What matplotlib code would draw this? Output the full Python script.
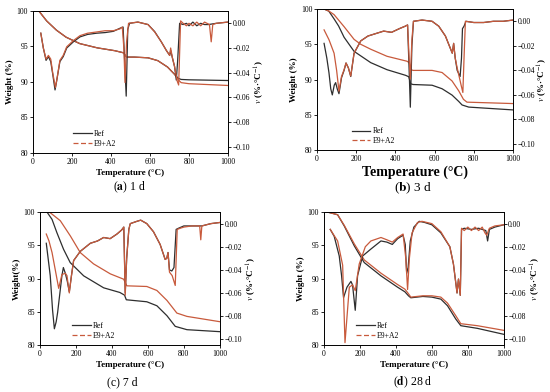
import matplotlib
matplotlib.use("Agg")
import matplotlib.pyplot as plt
from matplotlib.lines import Line2D

plt.rcParams["font.family"] = ["Liberation Serif", "DejaVu Serif"]
plt.rcParams["mathtext.fontset"] = "stix"

REF_COLOR = "#2e2e2e"
E9_COLOR = "#c85a3c"

# ---------------- (a) 1 d ----------------
t_w_a = [30, 70, 120, 170, 240, 330, 420, 465, 472, 480, 520, 590, 640, 690, 725, 745, 760, 800, 1000]
w_ref_a = [100, 98.6, 97.3, 96.3, 95.4, 94.8, 94.4, 94.1, 93.8, 93.5, 93.5, 93.4, 93.0, 92.1, 91.1, 90.5, 90.35, 90.3, 90.2]
w_e9_a = [100, 98.6, 97.3, 96.3, 95.4, 94.8, 94.4, 94.1, 93.8, 93.5, 93.5, 93.4, 93.0, 92.1, 91.1, 90.3, 89.9, 89.75, 89.5]

t_v_ref_a = [40, 53, 67, 79, 91, 101, 113, 121, 138, 155, 173, 207, 241, 280, 327, 370, 412, 446, 462, 470, 478,
             486, 495, 538, 590, 624, 658, 684, 701, 706, 715, 726, 735, 742, 752, 770, 787, 800, 820, 840, 860,
             880, 900, 940, 1000]
v_ref_a = [-0.008, -0.020, -0.030, -0.027, -0.031, -0.041, -0.054, -0.047, -0.031, -0.027, -0.020, -0.015, -0.011,
           -0.009, -0.008, -0.0075, -0.0065, -0.004, -0.003, -0.030, -0.059, -0.005, 0.0, 0.001, -0.001, -0.0067,
           -0.015, -0.022, -0.026, -0.022, -0.028, -0.035, -0.046, -0.030, 0.0, -0.001, 0.0, -0.002, 0.001,
           -0.002, 0.0, -0.001, -0.001, 0.0, 0.001]
t_v_e9_a = [40, 53, 67, 79, 91, 101, 115, 123, 138, 155, 173, 207, 241, 280, 327, 370, 412, 446, 458, 466, 472,
            480, 490, 538, 590, 624, 658, 684, 701, 706, 715, 726, 740, 747, 757, 770, 787, 800, 820, 840, 860,
            880, 905, 914, 922, 940, 1000]
v_e9_a = [-0.008, -0.020, -0.029, -0.026, -0.029, -0.040, -0.052, -0.045, -0.030, -0.026, -0.019, -0.014, -0.010,
          -0.008, -0.007, -0.006, -0.006, -0.0045, -0.003, -0.020, -0.048, -0.015, 0.0, 0.001, -0.001, -0.007,
          -0.015, -0.022, -0.026, -0.020, -0.028, -0.035, -0.047, -0.050, 0.002, 0.0, -0.002, 0.0, -0.002, 0.001,
          -0.002, 0.001, -0.001, -0.015, -0.001, 0.0, 0.001]

# ---------------- (b) 3 d ----------------
t_w_ref_b = [36, 60, 87, 110, 138, 189, 274, 357, 452, 468, 478, 490, 587, 638, 689, 723, 740, 774, 1000]
w_ref_b = [100, 99.7, 98.6, 97.6, 96.0, 94.0, 92.4, 91.4, 90.6, 90.4, 89.4, 89.3, 89.2, 88.7, 87.8, 86.9, 86.4, 86.1, 85.7]
t_w_e9_b = [36, 61, 87, 138, 189, 223, 274, 357, 459, 470, 480, 490, 587, 638, 689, 723, 747, 765, 1000]
w_e9_b = [100, 99.7, 99.2, 97.5, 95.7, 95.0, 94.3, 93.3, 92.6, 92.4, 91.4, 91.3, 91.3, 91.0, 89.8, 88.4, 87.2, 86.8, 86.6]

t_v_ref_b = [36, 50, 61, 70, 78, 88, 95, 103, 112, 125, 138, 148, 160, 172, 189, 223, 260, 300, 340, 380, 420,
             450, 462, 470, 476, 484, 492, 536, 587, 621, 655, 680, 690, 697, 705, 715, 730, 737, 742, 750, 760,
             800, 850, 900, 950, 1000]
v_ref_b = [-0.018, -0.030, -0.042, -0.055, -0.060, -0.052, -0.050, -0.055, -0.059, -0.046, -0.040, -0.034, -0.038,
           -0.045, -0.026, -0.016, -0.012, -0.010, -0.008, -0.009, -0.006, -0.004, -0.003, -0.040, -0.070, -0.020,
           0.0, 0.001, 0.0, -0.004, -0.012, -0.022, -0.026, -0.018, -0.030, -0.040, -0.045, -0.030, -0.006,
           -0.004, 0.0, -0.001, -0.001, 0.0, 0.0, 0.001]
t_v_e9_b = [36, 61, 87, 100, 112, 125, 138, 148, 160, 172, 189, 223, 260, 300, 340, 380, 420, 450, 462, 470, 476,
            484, 492, 536, 587, 621, 655, 680, 690, 697, 705, 715, 723, 735, 744, 750, 757, 800, 850, 900, 950, 1000]
v_e9_b = [-0.007, -0.015, -0.026, -0.040, -0.057, -0.045, -0.0395, -0.034, -0.038, -0.0446, -0.026, -0.016, -0.012,
          -0.010, -0.008, -0.009, -0.006, -0.004, -0.003, -0.030, -0.047, -0.015, 0.0, 0.001, 0.0, -0.004, -0.012,
          -0.022, -0.026, -0.018, -0.030, -0.038, -0.0435, -0.052, -0.058, -0.030, 0.0, -0.001, -0.001, 0.0, 0.0,
          0.001]

# ---------------- (c) 7 d ----------------
t_w_ref_c = [39, 67, 94, 131, 168, 243, 354, 444, 470, 480, 594, 650, 706, 752, 817, 1000]
w_ref_c = [100, 98.9, 96.9, 94.4, 92.4, 90.4, 88.6, 87.9, 87.5, 86.8, 86.5, 85.9, 84.4, 82.8, 82.3, 82.0]
t_w_e9_c = [45, 57, 113, 169, 224, 298, 391, 465, 474, 483, 594, 650, 706, 761, 817, 1000]
w_e9_c = [100, 99.9, 98.7, 96.4, 93.9, 92.2, 90.7, 89.9, 89.4, 88.9, 88.8, 88.2, 86.7, 84.8, 84.3, 83.5]

t_v_ref_c = [35, 57, 70, 80, 90, 98, 113, 122, 130, 141, 152, 163, 175, 187, 224, 280, 320, 354, 390, 428, 454,
             466, 474, 482, 494, 502, 539, 560, 594, 631, 668, 696, 705, 712, 720, 733, 745, 757, 770, 800, 844,
             900, 950, 1000]
v_ref_c = [-0.017, -0.045, -0.075, -0.091, -0.085, -0.077, -0.057, -0.045, -0.038, -0.043, -0.050, -0.059, -0.045,
           -0.032, -0.024, -0.017, -0.015, -0.012, -0.013, -0.009, -0.0055, -0.003, -0.060, -0.030, -0.005, 0.0,
           0.002, 0.003, 0.0, -0.007, -0.018, -0.031, -0.030, -0.025, -0.040, -0.041, -0.038, -0.005, -0.004,
           -0.002, -0.002, -0.002, 0.0, 0.001]
t_v_e9_c = [35, 50, 67, 85, 104, 122, 141, 150, 163, 175, 187, 224, 280, 320, 354, 390, 428, 454, 466, 474, 482,
            494, 502, 539, 560, 594, 631, 668, 696, 705, 712, 720, 735, 752, 763, 780, 800, 844, 888, 894, 900,
            950, 1000]
v_e9_c = [-0.009, -0.015, -0.025, -0.040, -0.056, -0.044, -0.043, -0.045, -0.060, -0.045, -0.032, -0.024, -0.017,
          -0.015, -0.012, -0.013, -0.009, -0.0055, -0.003, -0.062, -0.030, -0.005, 0.0, 0.002, 0.003, 0.0, -0.007,
          -0.018, -0.031, -0.030, -0.025, -0.042, -0.045, -0.0535, -0.005, -0.004, -0.003, -0.002, -0.002, -0.014,
          -0.002, 0.0, 0.001]

# ---------------- (d) 28 d ----------------
t_w_d = [20, 76, 113, 169, 224, 317, 409, 450, 470, 483, 550, 600, 650, 687, 733, 761, 853, 1000]
w_ref_d = [100, 99.6, 97.9, 94.9, 92.4, 90.4, 88.7, 88.0, 87.4, 87.1, 87.3, 87.2, 86.9, 85.9, 83.9, 82.9, 82.5, 81.6]
w_e9_d = [100, 99.6, 98.0, 95.2, 92.8, 90.8, 89.1, 88.4, 87.7, 87.2, 87.4, 87.4, 87.2, 86.3, 84.4, 83.2, 82.9, 82.2]

t_v_ref_d = [35, 57, 85, 98, 109, 128, 150, 159, 174, 187, 215, 261, 317, 350, 380, 410, 440, 452, 460, 468, 480,
             500, 530, 560, 600, 650, 700, 720, 740, 748, 758, 765, 780, 820, 860, 900, 910, 920, 950, 1000]
v_ref_d = [-0.005, -0.011, -0.028, -0.045, -0.064, -0.055, -0.050, -0.053, -0.075, -0.045, -0.028, -0.022, -0.015,
           -0.016, -0.018, -0.013, -0.010, -0.018, -0.043, -0.038, -0.015, -0.003, 0.002, 0.001, -0.001, -0.008,
           -0.020, -0.035, -0.060, -0.048, -0.062, -0.005, -0.004, -0.005, -0.004, -0.006, -0.015, -0.005, -0.003,
           -0.001]
t_v_e9_d = [35, 76, 104, 117, 141, 159, 174, 196, 230, 261, 317, 350, 380, 410, 440, 455, 465, 475, 490, 520, 545,
            600, 650, 700, 720, 740, 748, 758, 765, 780, 800, 820, 840, 860, 880, 895, 905, 920, 950, 1000]
v_e9_d = [-0.005, -0.015, -0.036, -0.103, -0.055, -0.053, -0.058, -0.035, -0.020, -0.015, -0.012, -0.014, -0.016,
          -0.012, -0.009, -0.030, -0.057, -0.030, -0.008, 0.001, 0.002, 0.0, -0.007, -0.020, -0.035, -0.060,
          -0.048, -0.062, -0.004, -0.006, -0.003, -0.006, -0.003, -0.006, -0.003, -0.008, -0.010, -0.004, -0.002,
          -0.001]


def draw_panel(rect, weights, rates, ylabel, leg_anchor, xlabel_size=6.5, ylabel_size=6.5, rlabel_pad=2):
    ax = fig.add_axes(rect)
    for (t, w), color in zip(weights, [REF_COLOR, E9_COLOR]):
        ax.plot(t, w, color=color, lw=0.9)
    ax.set_xlim(0, 1000)
    ax.set_ylim(80, 100)
    ax.set_xticks(range(0, 1001, 200))
    ax.set_yticks(range(80, 101, 5))
    ax.set_xlabel("Temperature (°C)", fontsize=xlabel_size, fontweight="bold", labelpad=2)
    ax.set_ylabel(ylabel, fontsize=ylabel_size, fontweight="bold", labelpad=2)
    ax.tick_params(labelsize=5.5, length=2, width=0.6, pad=1.5)

    ax2 = ax.twinx()
    for (t, v), color in zip(rates, [REF_COLOR, E9_COLOR]):
        ax2.plot(t, v, color=color, lw=0.9)
    ax2.set_ylim(-0.105, 0.010)
    ax2.set_yticks([0.0, -0.02, -0.04, -0.06, -0.08, -0.10])
    ax2.set_yticklabels(["0.00", "−0.02", "−0.04", "−0.06", "−0.08", "−0.10"])
    ax2.set_ylabel(r"$v$ (%·°C$^{-1}$)", fontsize=6.5, fontweight="bold", labelpad=rlabel_pad)
    ax2.tick_params(labelsize=5.5, length=2, width=0.6, pad=1.2)
    for a in (ax, ax2):
        for s in a.spines.values():
            s.set_linewidth(0.6)

    handles = [Line2D([], [], color=REF_COLOR, lw=0.9),
               Line2D([], [], color=E9_COLOR, lw=0.9, ls=(0, (4, 2)))]
    ax.legend(handles, ["Ref", "E9+A2"], loc="lower left", bbox_to_anchor=leg_anchor,
              frameon=False, fontsize=5.5, handlelength=2.4, handletextpad=0.3,
              labelspacing=0.2, borderpad=0.2)
    return ax


fig = plt.figure(figsize=(5.5, 3.92), dpi=100)

draw_panel([0.060, 0.610, 0.3545, 0.362],
           [(t_w_a, w_ref_a), (t_w_a, w_e9_a)],
           [(t_v_ref_a, v_ref_a), (t_v_e9_a, v_e9_a)],
           "Weight (%)", (0.18, 0.0))
draw_panel([0.5764, 0.617, 0.3564, 0.360],
           [(t_w_ref_b, w_ref_b), (t_w_e9_b, w_e9_b)],
           [(t_v_ref_b, v_ref_b), (t_v_e9_b, v_e9_b)],
           "Weight (%)", (0.15, 0.0), xlabel_size=10, rlabel_pad=0.5)
draw_panel([0.0727, 0.120, 0.327, 0.339],
           [(t_w_ref_c, w_ref_c), (t_w_e9_c, w_e9_c)],
           [(t_v_ref_c, v_ref_c), (t_v_e9_c, v_e9_c)],
           "Weight(%)", (0.15, 0.0))
draw_panel([0.589, 0.120, 0.327, 0.339],
           [(t_w_d, w_ref_d), (t_w_d, w_e9_d)],
           [(t_v_ref_d, v_ref_d), (t_v_e9_d, v_e9_d)],
           "Weight (%)", (0.15, 0.0))

fig.text(130 / 550, 1 - 187 / 392, r"($\mathbf{a}$) 1 d", ha="center", va="center", fontsize=8.5)
fig.text(413 / 550, 1 - 188 / 392, r"($\mathbf{b}$) 3 d", ha="center", va="center", fontsize=9.5)
fig.text(122 / 550, 1 - 382 / 392, "(c) 7 d", ha="center", va="center", fontsize=8.5)
fig.text(413 / 550, 1 - 382 / 392, r"($\mathbf{d}$) 28 d", ha="center", va="center", fontsize=8.5)

fig.savefig("out.png", dpi=100)
